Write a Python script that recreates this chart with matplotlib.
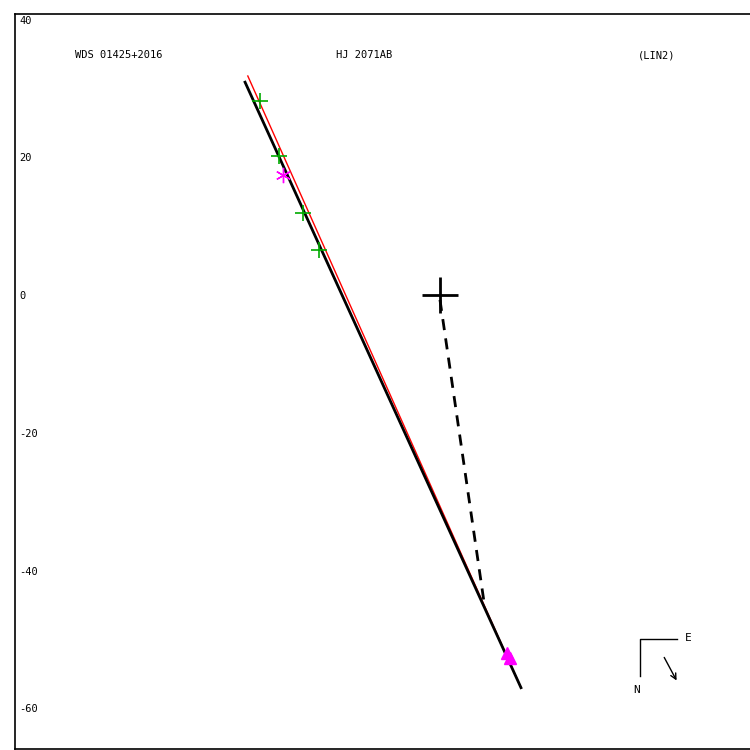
import matplotlib.pyplot as plt

# orbit (linear fit) lines, data units (arcsec-ish offsets)
fit_x = [-28.3, 11.76]
fit_y = [30.9, -57.0]
old_x = [-27.9, 11.76]
old_y = [31.8, -57.0]

# observations
obs_x = [-26.1, -23.4, -19.9, -17.6]
obs_y = [28.2, 20.2, 11.9, 6.5]
star_x = [-22.8]
star_y = [17.4]
tri_x = [9.7, 10.2]
tri_y = [-52.0, -52.7]

# closest approach line from primary
dash_x = [0.0, 6.5]
dash_y = [-0.7, -45.3]

yticks = [40, 20, 0, -20, -40, -60]

plt.rcParams['font.family'] = 'DejaVu Sans Mono'

fig = plt.figure(figsize=(7.5, 7.5), dpi=100)
ax = fig.add_axes([15/750, 1/750, 737/750, 735/750])
ax.set_xlim(-61.7, 45.3)
ax.set_ylim(-65.9, 40.8)

ax.plot(old_x, old_y, color='red', linewidth=1.0)
ax.plot(fit_x, fit_y, color='black', linewidth=2.0)
ax.plot(dash_x, dash_y, color='black', linewidth=2.0, linestyle=(0, (4, 3)))
ax.plot(obs_x, obs_y, '+', color='#00aa00', markersize=11, markeredgewidth=1.2)
ax.plot(star_x, star_y, marker=(6, 2, 0), color='magenta', markersize=11,
        markeredgewidth=1.0, linestyle='none')
ax.plot(tri_x, tri_y, '^', color='magenta', markersize=8, linestyle='none')
ax.plot([0], [0], '+', color='black', markersize=26, markeredgewidth=2.0)

# titles, placed in figure pixels (origin bottom-left)
ax.text(75, 750 - 55, 'WDS 01425+2016', transform=None, fontsize=7.5, va='center')
ax.text(336, 750 - 55, 'HJ 2071AB', transform=None, fontsize=7.5, va='center')
ax.text(638, 750 - 55, '(LIN2)', transform=None, fontsize=7.5, va='center')

# compass
def px(x, y):
    return ((x - 440) / 6.89, (295 - y) / 6.89)

c0 = px(640, 639)
ce = px(677, 639)
cn = px(640, 676)
ax.plot([ce[0], c0[0], cn[0]], [ce[1], c0[1], cn[1]], color='black', linewidth=1)
ax.text(*px(688, 638), 'E', fontsize=8, ha='center', va='center')
ax.text(*px(637, 690), 'N', fontsize=8, ha='center', va='center')
a0 = px(663, 655)
a1 = px(678, 683)
ax.annotate('', xy=a1, xytext=a0,
            arrowprops=dict(arrowstyle='->', color='black', lw=1))

ax.set_xticks([])
ax.set_yticks(yticks)
ax.set_yticklabels([str(t) for t in yticks], fontsize=7.5)
ax.tick_params(axis='y', length=0, pad=-3)
for lab in ax.get_yticklabels():
    lab.set_ha('left')
for s in ax.spines.values():
    s.set_linewidth(1.2)

fig.savefig('out.png', dpi=100)
